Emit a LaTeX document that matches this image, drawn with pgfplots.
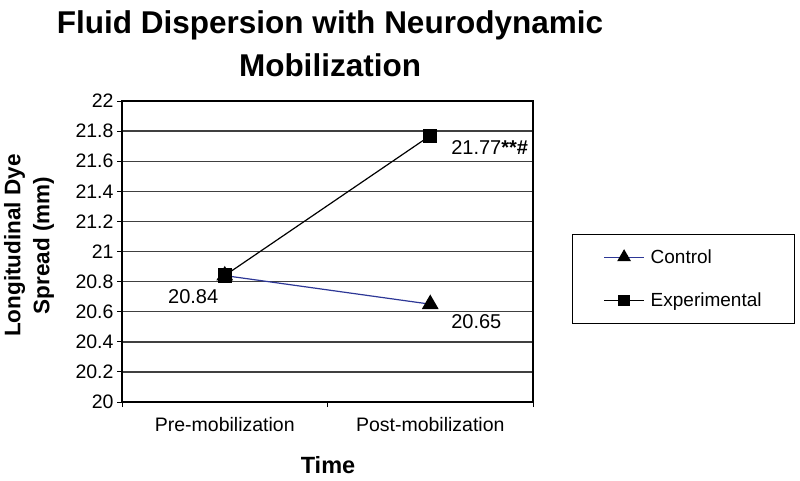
\documentclass[border=0pt]{standalone}
\usepackage{fontspec}
\setmainfont{Liberation Sans}
\usepackage{pgfplots}
\pgfplotsset{compat=1.18}
\definecolor{ctrl}{RGB}{45,55,150}
\begin{document}
\begin{tikzpicture}
\useasboundingbox (0pt,0pt) rectangle (800pt,480pt);
\node[align=center,font=\fontsize{31.5}{43}\selectfont\bfseries] at (330pt,436.5pt) {Fluid Dispersion with Neurodynamic\\Mobilization};
\node[align=center,rotate=90,font=\fontsize{22.5}{29}\selectfont\bfseries] at (29pt,234.5pt) {Longitudinal Dye\\Spread (mm)};
\node[font=\fontsize{23.5}{28}\selectfont\bfseries] at (328pt,15pt) {Time};
\begin{axis}[at={(122pt,78pt)}, anchor=south west, scale only axis, width=411pt, height=301pt,
  xmin=-0.5, xmax=1.5, ymin=20, ymax=22, clip=false,
  xtick={0,1}, xticklabels={Pre-mobilization,Post-mobilization},
  major x tick style={draw=none},
  minor xtick={-0.5,0.5,1.5},
  ytick={20,20.2,20.4,20.6,20.8,21,21.2,21.4,21.6,21.8,22},
  yticklabels={20,20.2,20.4,20.6,20.8,21,21.2,21.4,21.6,21.8,22},
  tick align=outside, tick pos=left, major tick length=5pt, minor tick length=5pt,
  ymajorgrids, grid style={draw=black!75, line width=1.4pt},
  axis line style={line width=1.2pt},
  tick style={black, line width=1pt},
  ticklabel style={font=\fontsize{19.5}{23}\selectfont},
  xticklabel style={yshift=-7pt},
  legend cell align=left,
  legend image code/.code={\draw[mark repeat=2,mark phase=2,#1,every mark/.append style={scale=0.8}] plot coordinates {(0pt,0pt) (20pt,0pt) (40pt,0pt)};},
  legend style={at={(1.0949,0.558)}, anchor=north west, draw=black, line width=1pt,
    inner xsep=31pt, inner ysep=13pt, row sep=24pt, column sep=4pt, font=\fontsize{19}{23}\selectfont},
]
\addplot[ctrl, line width=1.2pt, mark=triangle*, mark size=8.5pt, mark options={black, fill=black}] coordinates {(0,20.84) (1,20.65)};
\addlegendentry{Control}
\addplot[black, line width=1.2pt, mark=square*, mark size=6.5pt] coordinates {(0,20.84) (1,21.77)};
\addlegendentry{Experimental}
\node[anchor=east, font=\fontsize{20}{24}\selectfont, xshift=-3pt, yshift=-21.5pt] at (axis cs:0,20.84) {20.84};
\node[anchor=west, font=\fontsize{20}{24}\selectfont, xshift=17.5pt, yshift=-17pt] at (axis cs:1,20.65) {20.65};
\node[anchor=west, font=\fontsize{20}{24}\selectfont, xshift=17.5pt, yshift=-11.5pt] at (axis cs:1,21.77) {21.77\textbf{**\#}};
\end{axis}
\end{tikzpicture}
\end{document}
